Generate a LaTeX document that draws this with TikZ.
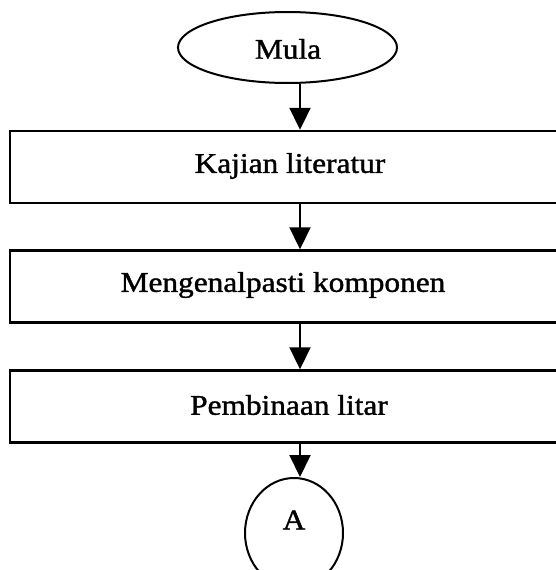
\documentclass[tikz,border=0pt]{standalone}
\usepackage{fontspec}
\setmainfont{Liberation Serif}[FakeStretch=1.1,FakeBold=1.3]
\usetikzlibrary{shapes.geometric,arrows.meta}

\tikzset{
  stepbox/.style={draw, line width=2.4pt, rectangle, minimum width=558pt, minimum height=72pt, inner sep=0pt},
  label/.style={font=\fontsize{28.5}{32}\selectfont, inner sep=0pt},
  terminal/.style={draw, line width=2pt, ellipse, inner sep=0pt},
  flow/.style={line width=2pt, -{Triangle[length=22pt,width=21pt]}},
}

\begin{document}
\begin{tikzpicture}[x=1pt,y=-1pt]
  \useasboundingbox (0,0) rectangle (556,570);
  \clip (0,0) rectangle (556,570);

  % start terminal
  \node[terminal, minimum width=219pt, minimum height=71pt] (mula) at (287.5,47.5) {};
  \node[label] (mulatext) at (288,49) {Mula};

  % process steps
  \node[stepbox] (b1) at (289,167) {};
  \node[label] (b1text) at (290,166) {Kajian literatur};
  \node[stepbox] (b2) at (289,286.5) {};
  \node[label] (b2text) at (283,285) {Mengenalpasti komponen};
  \node[stepbox] (b3) at (289,406.5) {};
  \node[label] (b3text) at (289,405) {Pembinaan litar};

  % off-page connector
  \node[terminal, minimum width=98pt, minimum height=110pt] (conn) at (294,533) {};
  \node[label] (conntext) at (294,520) {A};

  % arrow column
  \coordinate (ax) at (300,0);
  \draw[flow] (mula.south -| ax) -- (b1.north -| ax);
  \draw[flow] (b1.south -| ax) -- (b2.north -| ax);
  \draw[flow] (b2.south -| ax) -- (b3.north -| ax);
  \draw[flow] (b3.south -| ax) -- (conn.north -| ax);
\end{tikzpicture}
\end{document}
